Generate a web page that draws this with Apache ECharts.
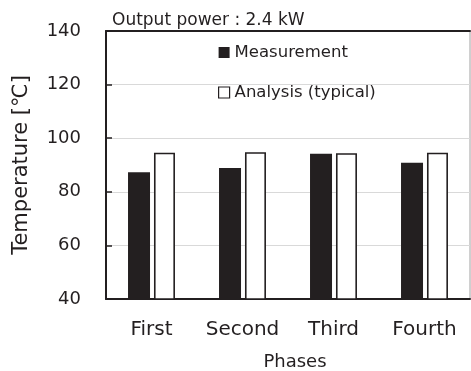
<!DOCTYPE html>
<html>
<head>
<meta charset="utf-8">
<script src="https://cdn.jsdelivr.net/npm/echarts@6/dist/echarts.min.js"></script>
<style>
html, body { margin: 0; padding: 0; background: #fff; }
#chart { width: 471px; height: 371px; }
</style>
</head>
<body>
<div id="chart"></div>
<script>
var phases = ['First', 'Second', 'Third', 'Fourth']
var measurement = [87.3, 88.9, 94.2, 90.8]
var analysis = [94.6, 94.8, 94.4, 94.6]
var yTicks = [40, 140, 20] // min, max, step

var ink = '#231f20'
var font = 'DejaVu Sans'

var myChart = echarts.init(document.getElementById('chart'))

var option = {
    backgroundColor: '#fff',
    animation: false,
    title: {
        text: 'Output power : 2.4 kW',
        left: 107,
        top: 7,
        textStyle: { fontFamily: font, fontSize: 17, fontWeight: 'normal', color: ink }
    },
    legend: {
        orient: 'vertical',
        left: 213,
        top: 39,
        itemWidth: 11,
        itemHeight: 11,
        itemGap: 23,
        textStyle: { fontFamily: font, fontSize: 16.5, color: ink },
        data: [
            { name: 'Measurement', icon: 'rect', itemStyle: { color: ink } },
            { name: 'Analysis (typical)', icon: 'rect', itemStyle: { color: '#fff', borderColor: ink, borderWidth: 1.2 } }
        ]
    },
    grid: {
        left: 106,
        right: 1,
        top: 31,
        bottom: 72,
        outerBoundsMode: 'none',
        show: true,
        borderColor: '#a0a0a0',
        borderWidth: 1
    },
    xAxis: [{
        type: 'category',
        data: phases,
        name: 'Phases',
        nameLocation: 'middle',
        nameGap: 54,
        nameTextStyle: { fontFamily: font, fontSize: 18, color: ink, padding: [0, 0, 0, 14] },
        axisLine: { lineStyle: { color: ink, width: 2 } },
        axisTick: { show: false },
        axisLabel: { interval: 0, fontFamily: font, fontSize: 20, color: ink, margin: 21 }
    }, {
        type: 'category',
        position: 'top',
        data: phases,
        axisLine: { lineStyle: { color: ink, width: 2 } },
        axisTick: { show: false },
        axisLabel: { show: false }
    }],
    yAxis: {
        type: 'value',
        min: yTicks[0],
        max: yTicks[1],
        interval: yTicks[2],
        name: 'Temperature [℃]',
        nameLocation: 'middle',
        nameGap: 74,
        nameTextStyle: { fontFamily: font, fontSize: 21, color: ink },
        axisLine: { show: true, lineStyle: { color: ink, width: 2 } },
        axisTick: { show: true, inside: true, length: 6, lineStyle: { color: ink, width: 1.5 } },
        axisLabel: { fontFamily: font, fontSize: 18, color: ink, margin: 25, padding: [3, 0, 0, 0] },
        splitLine: { lineStyle: { color: '#d9d9d9', width: 1 } }
    },
    series: [{
        name: 'Measurement',
        type: 'bar',
        data: measurement,
        barWidth: 22,
        barGap: '18%',
        itemStyle: { color: ink }
    }, {
        name: 'Analysis (typical)',
        type: 'bar',
        data: analysis,
        barWidth: 21,
        itemStyle: { color: '#fff', borderColor: ink, borderWidth: 1.6 }
    }]
}

myChart.setOption(option)
</script>
</body>
</html>
